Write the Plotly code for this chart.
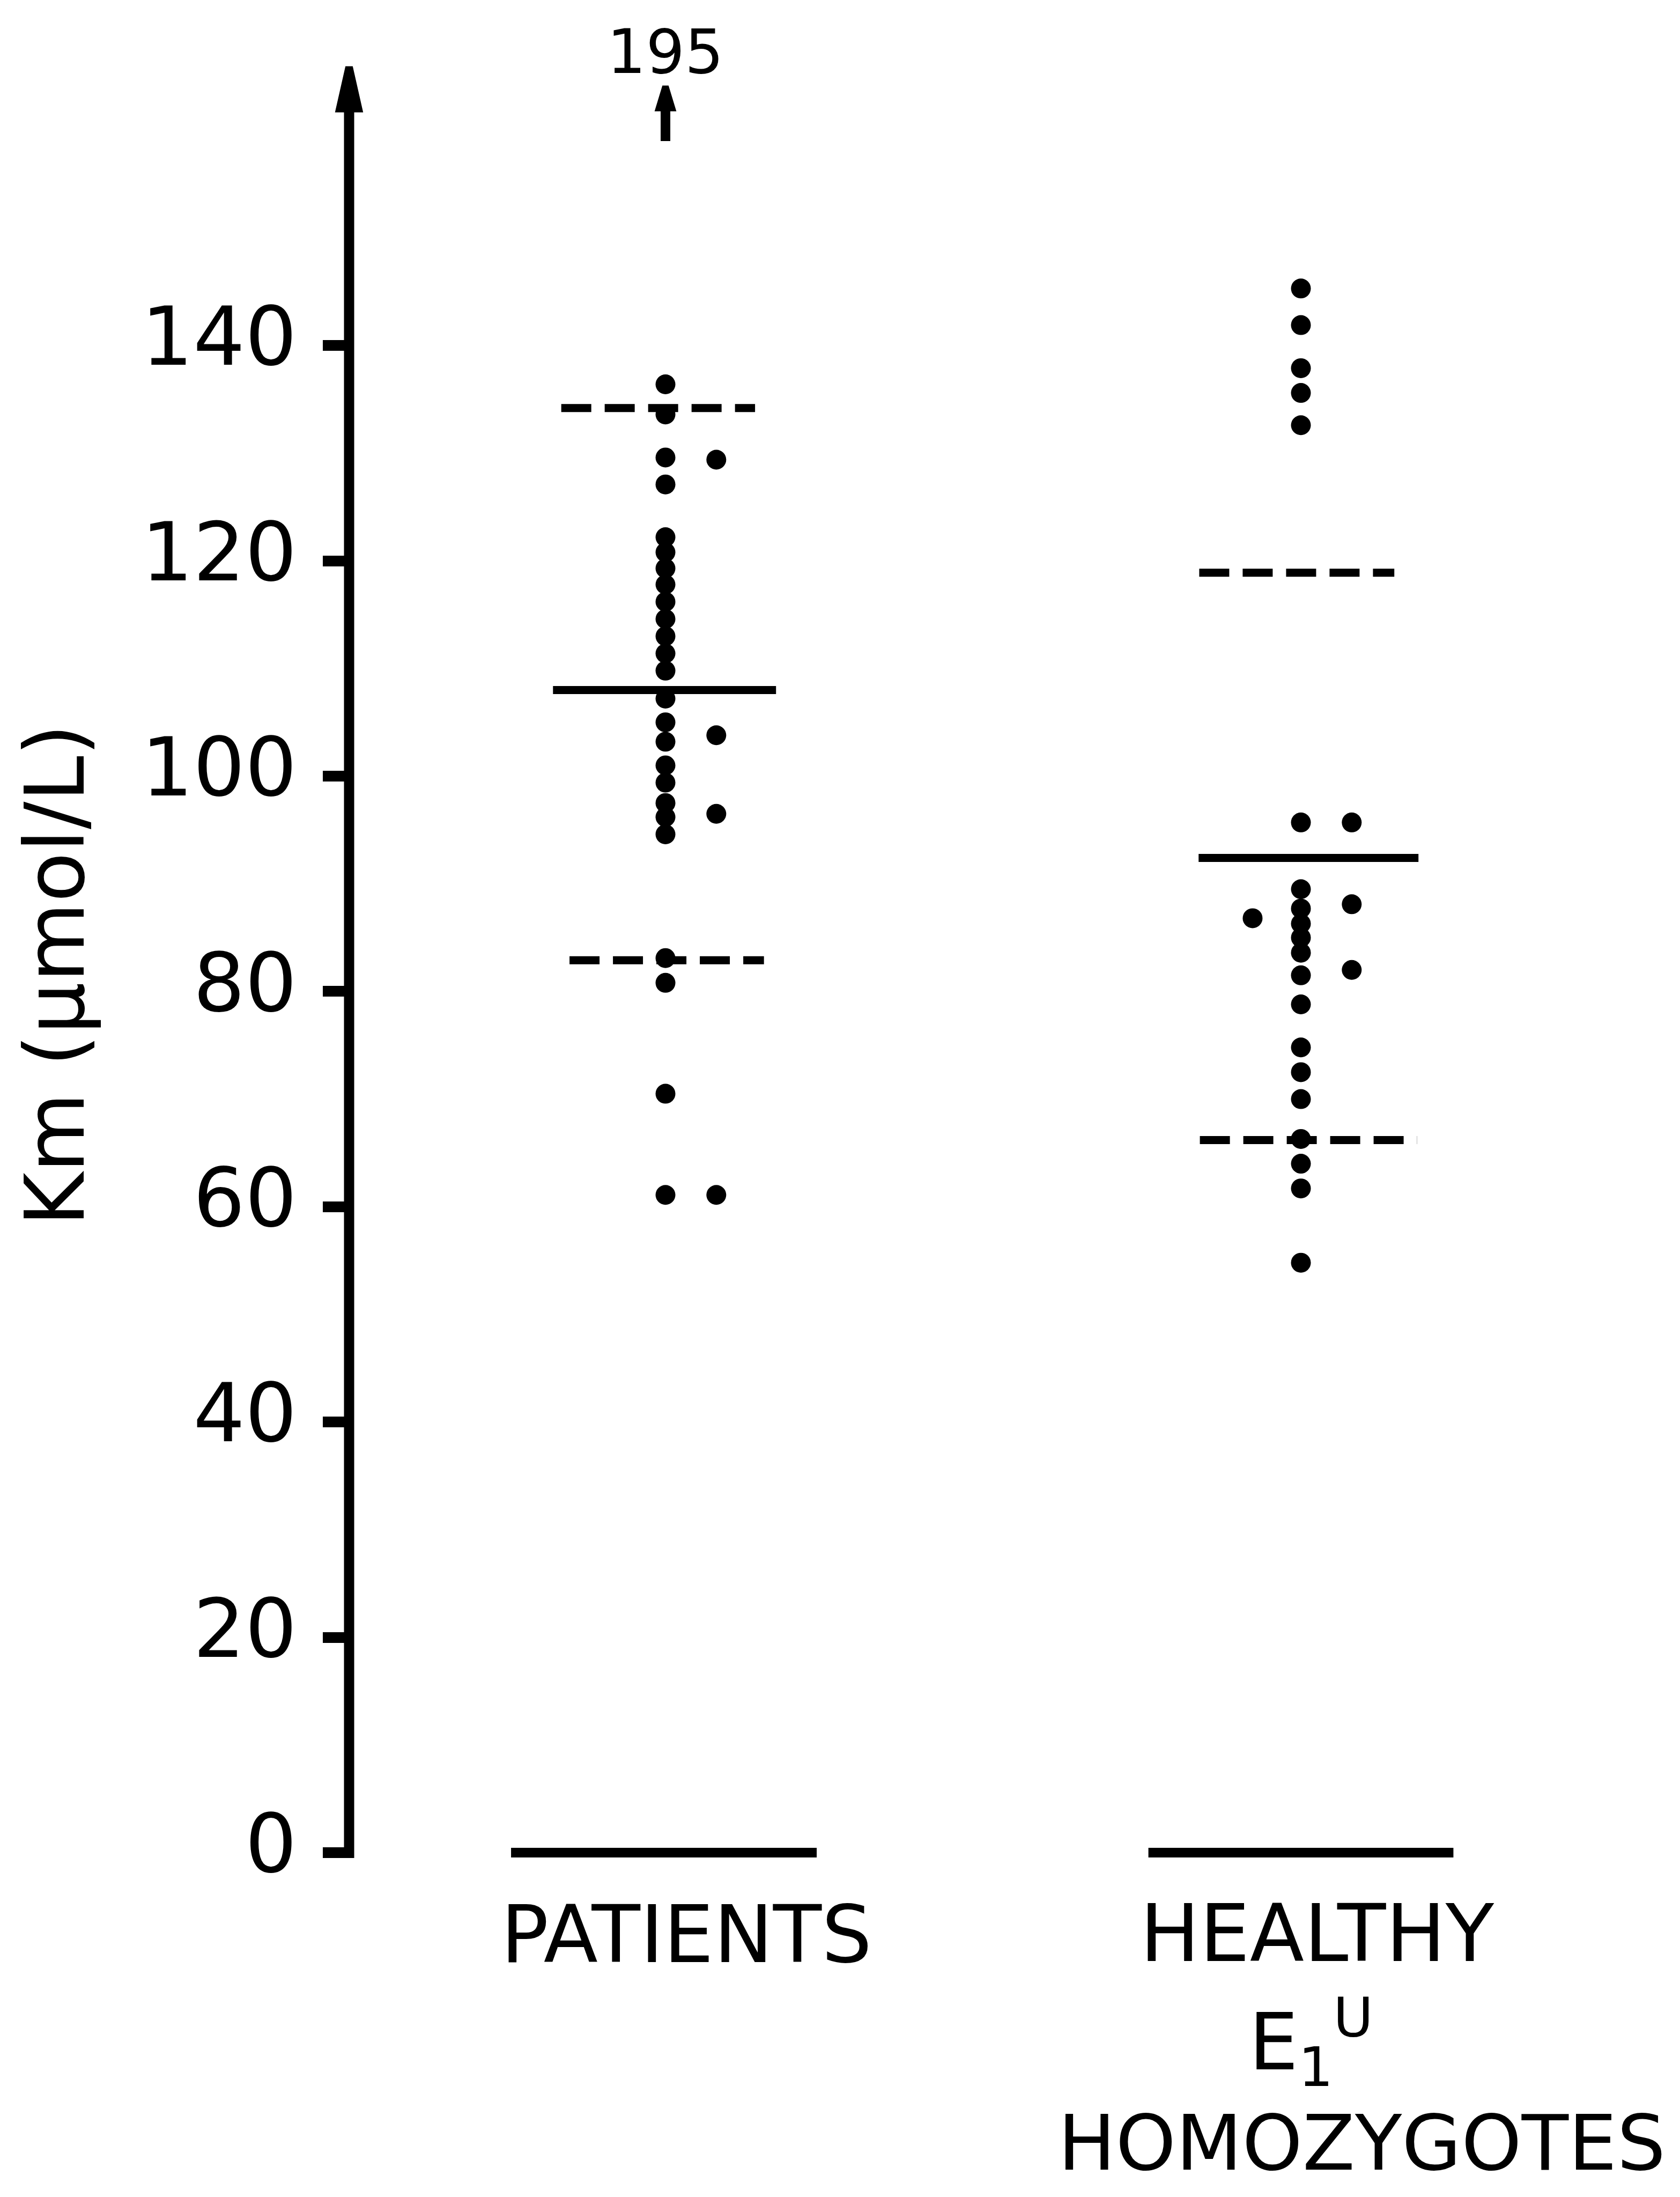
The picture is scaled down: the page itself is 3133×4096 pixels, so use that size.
import plotly.graph_objects as go

# ---------------- data (Km, µmol/L) ----------------
group_names = ["PATIENTS", "HEALTHY"]
group_pos = [1, 2]

patients_center = [136.4, 133.6, 129.6, 127.1, 122.2, 120.8, 119.3, 117.8, 116.2,
                   114.6, 113.0, 111.4, 109.8, 107.2, 105.0, 103.2, 101.0, 99.4,
                   97.5, 96.2, 94.6, 83.1, 80.8, 70.5, 61.1]
patients_right = [129.4, 103.8, 96.5, 61.1]
patients_mean = 108.0
patients_sd_low = 82.9
patients_sd_high = 134.2
patients_offscale_label = "195"

healthy_center = [145.3, 141.9, 137.9, 135.6, 132.6, 95.7, 89.5, 87.7, 86.3, 85.0,
                  83.6, 81.5, 78.8, 74.8, 72.5, 70.0, 66.3, 64.0, 61.7, 54.8]
healthy_left = [86.8]
healthy_right = [95.7, 88.1, 82.0]
healthy_mean = 92.4
healthy_sd_low = 66.2
healthy_sd_high = 118.9

y_ticks = [0, 20, 40, 60, 80, 100, 120, 140]
y_title = "Km (μmol/L)"
healthy_label_lines = ["HEALTHY", "E<sub>1</sub><sup>U</sup>", "HOMOZYGOTES"]

# ---------------- style / layout constants ----------------
W, H = 3133, 4096
ML, MR, MT, MB = 651, 0, 0, 596
Y_RANGE = [-2.292, 172.10]
X_RANGE = [0.5021, 2.5966]
FONT = "DejaVu Sans"
BLACK = "black"
DOT = 37
SIDE = 0.08


def ypaper(v):
    return (v - Y_RANGE[0]) / (Y_RANGE[1] - Y_RANGE[0])


fig = go.Figure()


def dots(x, ys):
    fig.add_trace(go.Scatter(x=[x] * len(ys), y=ys, mode="markers",
                             marker=dict(size=DOT, color=BLACK, line=dict(width=0)),
                             showlegend=False, hoverinfo="skip"))


def hline(xa, xb, y, width, dash="solid"):
    fig.add_trace(go.Scatter(x=[xa, xb], y=[y, y], mode="lines",
                             line=dict(color=BLACK, width=width, dash=dash),
                             showlegend=False, hoverinfo="skip"))


p, h = group_pos
dots(p, patients_center)
dots(p + SIDE, patients_right)
dots(h, healthy_center)
dots(h - SIDE * 0.95, healthy_left)
dots(h + SIDE, healthy_right)

DASH = "56px,25px"
hline(p - 0.177, p + 0.174, patients_mean, 15)
hline(p - 0.164, p + 0.141, patients_sd_high, 15, DASH)
hline(p - 0.151, p + 0.155, patients_sd_low, 15, DASH)
hline(h - 0.161, h + 0.185, healthy_mean, 15)
hline(h - 0.160, h + 0.147, healthy_sd_high, 15, DASH)
hline(h - 0.159, h + 0.183, healthy_sd_low, 15, DASH)

# baselines at zero under each group
hline(p - 0.243, p + 0.238, 0, 18)
hline(h - 0.240, h + 0.240, 0, 18)

shapes = []
# y axis line with arrow head
shapes.append(dict(type="line", xref="paper", yref="y", x0=0, x1=0, y0=-0.5, y1=161.8,
                   line=dict(color=BLACK, width=19)))
shapes.append(dict(type="path", xref="paper", yref="y", xsizemode="pixel", ysizemode="pixel",
                   xanchor=0, yanchor=165.9,
                   path="M -25 -84 L -6 0 L 6 0 L 25 -84 Z",
                   fillcolor=BLACK, line=dict(color=BLACK, width=2)))
# off-scale arrow for the patients group
shapes.append(dict(type="line", xref="x", yref="y", x0=p, x1=p, y0=159.0, y1=162.2,
                   line=dict(color=BLACK, width=18)))
shapes.append(dict(type="path", xref="x", yref="y", xsizemode="pixel", ysizemode="pixel",
                   xanchor=p, yanchor=164.1,
                   path="M -19 -46 L -5 0 L 5 0 L 19 -46 Z",
                   fillcolor=BLACK, line=dict(color=BLACK, width=2)))

annotations = []
annotations.append(dict(x=p, y=ypaper(167.3), xref="x", yref="paper",
                        text=patients_offscale_label,
                        showarrow=False, xanchor="center", yanchor="middle",
                        font=dict(family=FONT, size=114, color=BLACK)))
annotations.append(dict(x=p + 0.033, y=ypaper(-7.6), xref="x", yref="paper",
                        text=group_names[0],
                        showarrow=False, xanchor="center", yanchor="middle",
                        font=dict(family=FONT, size=148, color=BLACK)))
label_x = [h + 0.026, h + 0.016, h + 0.096]
label_y = [-7.5, -17.6, -27.0]
label_size = [148, 146, 143]
for tx, lx, ly, ls in zip(healthy_label_lines, label_x, label_y, label_size):
    annotations.append(dict(x=lx, y=ypaper(ly), xref="x", yref="paper", text=tx,
                            showarrow=False, xanchor="center", yanchor="middle",
                            borderpad=0,
                            font=dict(family=FONT, size=ls, color=BLACK)))
annotations.append(dict(x=(103 - ML) / (W - ML - MR), y=ypaper(81.5), xref="paper",
                        yref="paper", text=y_title, textangle=-90, showarrow=False,
                        xanchor="center", yanchor="middle",
                        font=dict(family=FONT, size=153, color=BLACK)))

fig.update_layout(
    width=W, height=H,
    margin=dict(l=ML, r=MR, t=MT, b=MB, pad=0),
    paper_bgcolor="white", plot_bgcolor="white",
    showlegend=False,
    shapes=shapes, annotations=annotations,
    xaxis=dict(range=X_RANGE, visible=False, showgrid=False, zeroline=False),
    yaxis=dict(range=Y_RANGE, showgrid=False, zeroline=False, showline=False,
               tickmode="array", tickvals=y_ticks, ticktext=[str(t) for t in y_ticks],
               ticks="outside", ticklen=48, tickwidth=20, tickcolor=BLACK,
               ticklabelstandoff=18, ticklabelshift=-17,
               tickfont=dict(family=FONT, size=152, color=BLACK),
               automargin=False),
)

fig.write_html("out.html")
